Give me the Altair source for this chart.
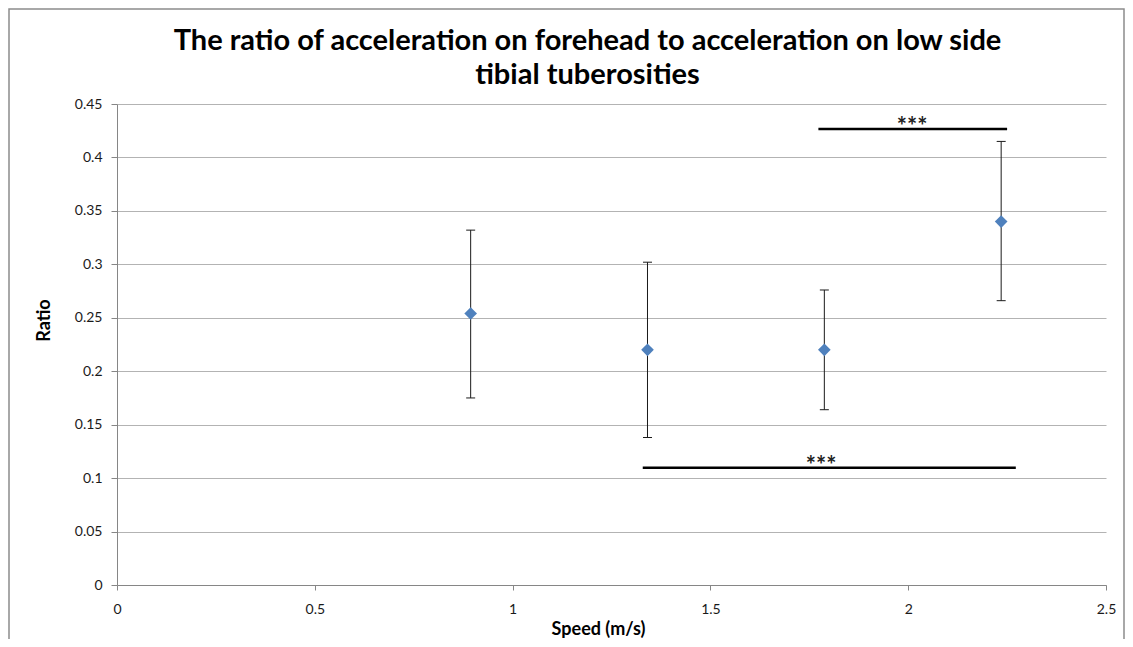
import altair as alt
import pandas as pd

# ---- data ----
speed = [0.894, 1.341, 1.788, 2.235]
ratio = [0.254, 0.220, 0.220, 0.340]
err_low = [0.175, 0.138, 0.164, 0.266]
err_high = [0.332, 0.302, 0.276, 0.415]

sig_start = [1.773, 1.329]
sig_end = [2.250, 2.272]
sig_level = [0.4266, 0.1097]
sig_label_x = [2.01, 1.78]
sig_label_y = [0.4213, 0.1041]
sig_label = ["***", "***"]

y_ticks = [0, 0.05, 0.1, 0.15, 0.2, 0.25, 0.3, 0.35, 0.4, 0.45]
x_ticks = [0, 0.5, 1, 1.5, 2, 2.5]

title_lines = ["The ratio of acceleration on forehead to acceleration on low side",
               "tibial tuberosities"]
x_title = "Speed (m/s)"
y_title = "Ratio"

FONT = "Lato"

points = pd.DataFrame({"speed": speed, "ratio": ratio,
                       "lo": err_low, "hi": err_high})
caps = pd.DataFrame({"speed": speed + speed, "cap": err_low + err_high})
sig = pd.DataFrame({"x1": sig_start, "x2": sig_end, "y": sig_level,
                    "tx": sig_label_x, "ty": sig_label_y, "label": sig_label})

xs = alt.Scale(domain=[0, 2.5], nice=False, zero=True)
ys = alt.Scale(domain=[0, 0.45], nice=False, zero=True)

x_axis = alt.Axis(values=x_ticks, format="~g", grid=False, title=x_title,
                  titleX=481, titleY=49, titleBaseline="alphabetic",
                  labelPadding=12, tickSize=5, labelFlush=False)
y_axis = alt.Axis(values=y_ticks, format="~g", grid=True, title=y_title,
                  titleX=-68, titleY=216, titleAngle=-90,
                  titleBaseline="alphabetic", labelPadding=9, tickSize=6)

base = alt.Chart(points)

err = base.mark_rule(color="#1a1a1a", strokeWidth=1).encode(
    x=alt.X("speed:Q", scale=xs, axis=x_axis),
    y=alt.Y("lo:Q", scale=ys, axis=y_axis),
    y2="hi:Q",
)

cap_marks = alt.Chart(caps).mark_tick(
    orient="horizontal", size=9, thickness=1, color="#1a1a1a", opacity=1
).encode(x=alt.X("speed:Q", scale=xs), y=alt.Y("cap:Q", scale=ys))

pts = base.mark_point(shape="diamond", filled=True, size=160,
                      color="#4f81bd", opacity=1).encode(
    x=alt.X("speed:Q", scale=xs), y=alt.Y("ratio:Q", scale=ys))

sig_lines = alt.Chart(sig).mark_rule(color="black", strokeWidth=2.5).encode(
    x=alt.X("x1:Q", scale=xs), x2="x2:Q", y=alt.Y("y:Q", scale=ys))

sig_text = alt.Chart(sig).mark_text(font=FONT, fontSize=24, fontWeight="bold",
                                    baseline="alphabetic",
                                    color="#222222").encode(
    x=alt.X("tx:Q", scale=xs), y=alt.Y("ty:Q", scale=ys), text="label:N")

frame = alt.Chart(pd.DataFrame({"a": [0]})).mark_rect(
    fillOpacity=0, stroke="#8c8c8c", strokeWidth=1.5
).encode(x=alt.value(-108), x2=alt.value(1007),
         y=alt.value(-95), y2=alt.value(700))

chart = alt.layer(frame, err, cap_marks, pts, sig_lines, sig_text).properties(
    width=989, height=481,
    padding={"left": 109, "top": 96, "right": 19, "bottom": 54},
    autosize=alt.AutoSizeParams(type="none"),
    title=alt.TitleParams(title_lines, font=FONT, fontSize=29, fontWeight="bold",
                          color="black", anchor="middle", frame="group",
                          dx=-24, dy=82, lineHeight=34, offset=0),
).configure_view(strokeWidth=0).configure_axis(
    domainColor="#868686", tickColor="#868686", gridColor="#b3b3b3",
    labelFont=FONT, labelFontSize=14, labelColor="#1a1a1a",
    titleFont=FONT, titleFontSize=18, titleFontWeight="bold", titleColor="black",
)

chart.save("out.html", embed_options={"renderer": "svg", "actions": False})
